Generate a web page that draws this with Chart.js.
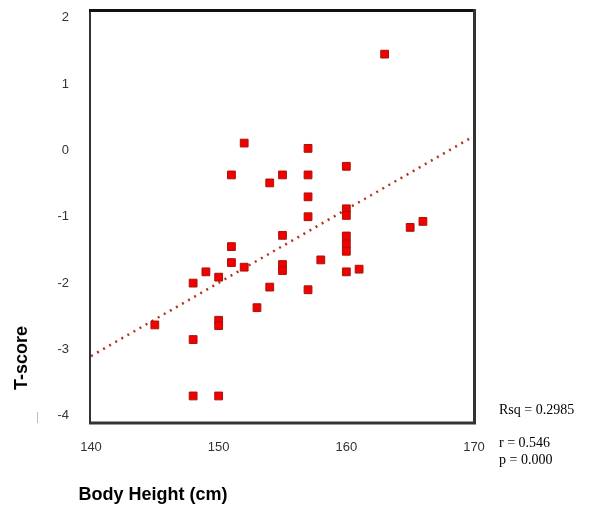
<!DOCTYPE html>
<html>
<head>
<meta charset="utf-8">
<script src="https://cdn.jsdelivr.net/npm/chart.js@4/dist/chart.umd.min.js"></script>
<style>
html,body{margin:0;padding:0;background:#fff;}
#wrap{width:609px;height:506px;position:relative;}
</style>
</head>
<body>
<div id="wrap"><canvas id="c" width="609" height="506"></canvas></div>
<script>
// Data
const heights = [163, 152, 157, 151, 155, 157, 154, 160, 157, 157, 160, 160, 165, 166, 155, 160, 160, 160,
                 151, 151, 152, 155, 155, 158, 161, 160, 149, 150, 148, 154, 157, 153, 150, 150, 145, 148, 148, 150];
const tScores = [1.45, 0.11, 0.03, -0.37, -0.37, -0.37, -0.49, -0.24, -0.70, -1.00, -0.88, -0.98, -1.16, -1.07, -1.28, -1.29, -1.41, -1.52,
                 -1.45, -1.69, -1.76, -1.72, -1.81, -1.65, -1.79, -1.83, -1.83, -1.91, -2.00, -2.06, -2.10, -2.37, -2.56, -2.64, -2.63, -2.85, -3.70, -3.70];
const fitX = [140, 170];
const fitY = [-3.10, 0.215];
const xTicks = [140, 150, 160, 170];
const yTicks = [2, 1, 0, -1, -2, -3, -4];
const xTitle = 'Body Height (cm)';
const yTitle = 'T-score';
const statLines = ['Rsq = 0.2985', 'r = 0.546', 'p = 0.000'];

const scatterPts = heights.map((h, i) => ({x: h, y: tScores[i]}));
const fitPts = fitX.map((x, i) => ({x: x, y: fitY[i]}));

const tickFont = {family: "'Liberation Sans Narrow', 'Liberation Sans', Arial, sans-serif", size: 13};

const decor = {
  id: 'decor',
  afterDraw(chart) {
    const ctx = chart.ctx;
    const a = chart.chartArea;
    ctx.save();
    // frame
    ctx.strokeStyle = '#333';
    ctx.lineWidth = 2;
    ctx.beginPath();
    ctx.moveTo(a.left - 1, a.top); ctx.lineTo(a.left - 1, a.bottom + 1);
    ctx.stroke();
    ctx.strokeStyle = '#111';
    ctx.lineWidth = 3;
    ctx.beginPath();
    ctx.moveTo(a.left - 2, a.top - 0.5); ctx.lineTo(a.right + 1.5, a.top - 0.5);
    ctx.stroke();
    ctx.strokeStyle = '#333';
    ctx.beginPath();
    ctx.moveTo(a.right + 0.5, a.top - 2); ctx.lineTo(a.right + 0.5, a.bottom + 1.5);
    ctx.moveTo(a.left - 2, a.bottom + 0.5); ctx.lineTo(a.right + 2, a.bottom + 0.5);
    ctx.stroke();
    // small gray mark
    ctx.strokeStyle = '#bbb';
    ctx.lineWidth = 1;
    ctx.beginPath();
    ctx.moveTo(37.5, 412); ctx.lineTo(37.5, 423);
    ctx.stroke();
    // axis titles
    ctx.fillStyle = '#000';
    ctx.font = "bold 18px 'Liberation Sans', Arial, sans-serif";
    ctx.textAlign = 'center';
    ctx.textBaseline = 'middle';
    ctx.fillText(xTitle, 153, 495);
    ctx.save();
    ctx.translate(22, 358);
    ctx.rotate(-Math.PI / 2);
    ctx.fillText(yTitle, 0, 0);
    ctx.restore();
    // stats
    ctx.font = "14px 'Liberation Serif', 'Times New Roman', serif";
    ctx.textAlign = 'left';
    ctx.fillStyle = '#000';
    ctx.fillText(statLines[0], 499, 410);
    ctx.fillText(statLines[1], 499, 443);
    ctx.fillText(statLines[2], 499, 460);
    ctx.restore();
  }
};

new Chart(document.getElementById('c'), {
  type: 'scatter',
  data: {
    datasets: [
      {
        type: 'line',
        data: fitPts,
        borderColor: '#b8301c',
        borderWidth: 2.5,
        borderDash: [2, 5],
        pointRadius: 0,
        fill: false,
        showLine: true,
        order: 2
      },
      {
        data: scatterPts,
        pointStyle: 'rect',
        pointRadius: 5.5,
        backgroundColor: '#f40000',
        borderColor: '#a31508',
        borderWidth: 1,
        order: 1
      }
    ]
  },
  options: {
    responsive: false,
    animation: false,
    events: [],
    layout: {padding: {left: 0, right: 135, top: 11, bottom: 0}},
    plugins: {legend: {display: false}, tooltip: {enabled: false}},
    scales: {
      x: {
        type: 'linear',
        min: 140, max: 170,
        grid: {display: false, drawTicks: false},
        border: {display: false},
        afterBuildTicks: (s) => { s.ticks = xTicks.map(v => ({value: v})); },
        afterFit: (s) => { s.height = 83.5; s.paddingLeft = 0; s.paddingRight = 0; },
        ticks: {color: '#333', font: tickFont, padding: 17, maxRotation: 0, autoSkip: false}
      },
      y: {
        type: 'linear',
        min: -4.1, max: 2.1,
        grid: {display: false, drawTicks: false},
        border: {display: false},
        afterBuildTicks: (s) => { s.ticks = yTicks.map(v => ({value: v})); },
        afterFit: (s) => { s.width = 91; s.paddingTop = 0; s.paddingBottom = 0; },
        ticks: {color: '#333', font: tickFont, padding: 22, autoSkip: false}
      }
    }
  },
  plugins: [decor]
});
</script>
</body>
</html>
